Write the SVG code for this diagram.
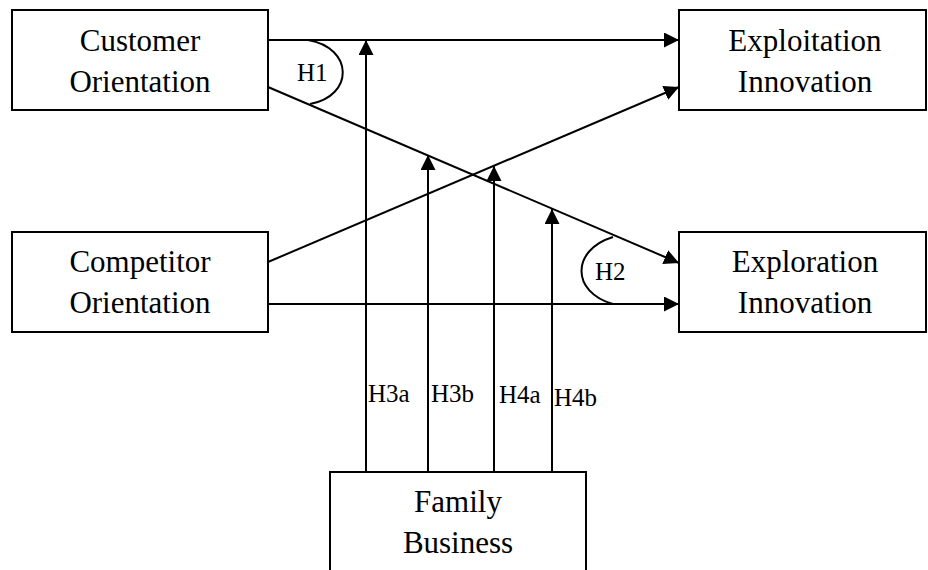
<svg xmlns="http://www.w3.org/2000/svg" width="928" height="570" viewBox="0 0 928 570">
<style>
.box{fill:#fff;stroke:#000;stroke-width:2}
.t{font-family:"Liberation Serif","Times New Roman",serif;font-size:31px;fill:#000;text-anchor:middle}
.h{font-family:"Liberation Serif","Times New Roman",serif;font-size:25px;fill:#000}
.c{fill:none;stroke:#000;stroke-width:2}
</style>
<defs>
<marker id="ah" markerUnits="userSpaceOnUse" markerWidth="15" markerHeight="15" refX="15" refY="7.5" orient="auto">
<path d="M0,0 L15,7.5 L0,15 z" fill="#000"/>
</marker>
</defs>
<rect width="928" height="570" fill="#fff"/>
<g id="connectors">
<line class="c" x1="268" y1="40" x2="679" y2="40" marker-end="url(#ah)"/>
<line class="c" x1="268" y1="87" x2="679" y2="263" marker-end="url(#ah)"/>
<line class="c" x1="268" y1="262" x2="679" y2="87" marker-end="url(#ah)"/>
<line class="c" x1="268" y1="304" x2="679" y2="304" marker-end="url(#ah)"/>
<line class="c" x1="366" y1="472" x2="366" y2="40" marker-end="url(#ah)"/>
<line class="c" x1="428" y1="472" x2="428" y2="155" marker-end="url(#ah)"/>
<line class="c" x1="494" y1="472" x2="494" y2="166" marker-end="url(#ah)"/>
<line class="c" x1="552" y1="472" x2="552" y2="209" marker-end="url(#ah)"/>
<path class="c" d="M308,40 C354,48 354,96 310,104"/>
<path class="c" d="M613,237 C571,250 571,292 613,304"/>
<text class="h" x="297" y="81">H1</text>
<text class="h" x="595" y="280">H2</text>
<text class="h" x="368" y="402">H3a</text>
<text class="h" x="431" y="402">H3b</text>
<text class="h" x="499" y="403">H4a</text>
<text class="h" x="554" y="406">H4b</text>
</g>
<g id="customer">
<rect class="box" x="12" y="10" width="256" height="100"/>
<text class="t" x="140" y="51">Customer</text>
<text class="t" x="140" y="92">Orientation</text>
</g>
<g id="competitor">
<rect class="box" x="12" y="232" width="256" height="100"/>
<text class="t" x="140" y="272">Competitor</text>
<text class="t" x="140" y="313">Orientation</text>
</g>
<g id="exploitation">
<rect class="box" x="679" y="10" width="247" height="100"/>
<text class="t" x="805" y="51">Exploitation</text>
<text class="t" x="805" y="92">Innovation</text>
</g>
<g id="exploration">
<rect class="box" x="679" y="232" width="247" height="100"/>
<text class="t" x="805" y="272">Exploration</text>
<text class="t" x="805" y="313">Innovation</text>
</g>
<g id="family">
<rect class="box" x="330" y="472" width="256" height="110"/>
<text class="t" x="458" y="512">Family</text>
<text class="t" x="458" y="553">Business</text>
</g>
</svg>
